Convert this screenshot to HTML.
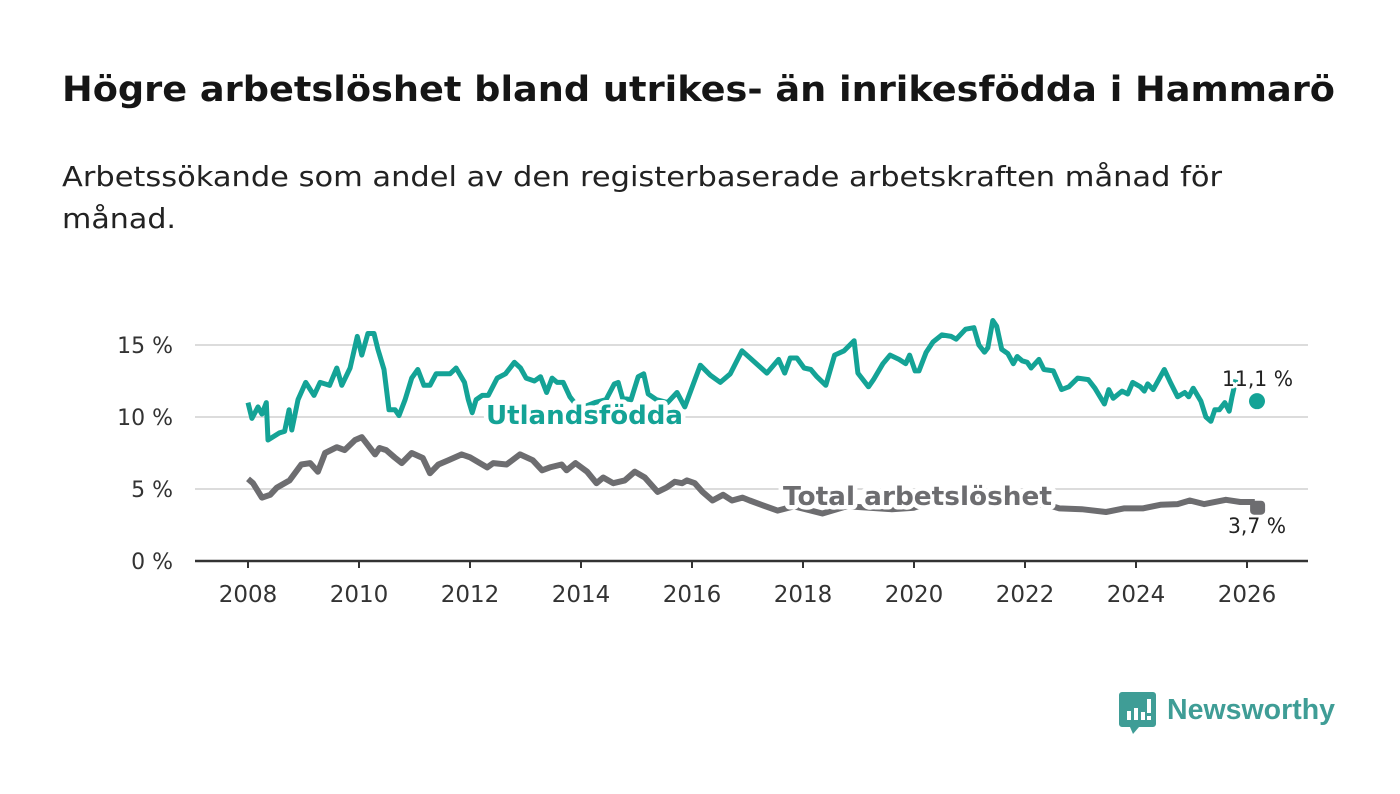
<!DOCTYPE html>
<html><head><meta charset="utf-8">
<style>
body{margin:0;width:1400px;height:794px;background:#fff;overflow:hidden;font-family:"DejaVu Sans","Liberation Sans",sans-serif;}
svg{position:absolute;left:0;top:0}
</style></head><body>
<svg width="1400" height="794" style="position:absolute;left:0;top:0">
  <text x="62" y="101" font-size="35" font-weight="bold" fill="#151515" textLength="1273" lengthAdjust="spacingAndGlyphs" font-family="DejaVu Sans, sans-serif">Högre arbetslöshet bland utrikes- än inrikesfödda i Hammarö</text>
  <text x="62" y="186" font-size="28" fill="#222" textLength="1160" lengthAdjust="spacingAndGlyphs" font-family="DejaVu Sans, sans-serif">Arbetssökande som andel av den registerbaserade arbetskraften månad för</text>
  <text x="62" y="228" font-size="28" fill="#222" textLength="114" lengthAdjust="spacingAndGlyphs" font-family="DejaVu Sans, sans-serif">månad.</text>
</svg>
<svg id="chart" width="1400" height="794"></svg>
<script>
const yTicks=[0,5,10,15];
const yTickLabels=["0 %","5 %","10 %","15 %"];
const xTicks=[2008,2010,2012,2014,2016,2018,2020,2022,2024,2026];
const foreignYears=[2008.0,2008.07,2008.18,2008.25,2008.33,2008.36,2008.57,2008.66,2008.74,2008.79,2008.9,2009.04,2009.19,2009.3,2009.47,2009.6,2009.69,2009.84,2009.97,2010.05,2010.16,2010.27,2010.34,2010.45,2010.54,2010.65,2010.72,2010.83,2010.95,2011.06,2011.17,2011.28,2011.39,2011.64,2011.75,2011.9,2011.97,2012.04,2012.11,2012.22,2012.33,2012.49,2012.64,2012.8,2012.91,2013.01,2013.16,2013.27,2013.38,2013.48,2013.57,2013.68,2013.8,2013.9,2014.05,2014.25,2014.45,2014.6,2014.67,2014.75,2014.9,2015.03,2015.13,2015.21,2015.36,2015.56,2015.73,2015.87,2016.15,2016.33,2016.51,2016.69,2016.9,2017.35,2017.47,2017.56,2017.67,2017.77,2017.89,2018.02,2018.14,2018.25,2018.41,2018.57,2018.74,2018.92,2018.99,2019.18,2019.27,2019.44,2019.57,2019.73,2019.85,2019.92,2020.02,2020.09,2020.22,2020.34,2020.5,2020.67,2020.76,2020.93,2021.08,2021.17,2021.27,2021.33,2021.42,2021.49,2021.58,2021.69,2021.79,2021.86,2021.95,2022.04,2022.11,2022.25,2022.34,2022.51,2022.66,2022.79,2022.95,2023.14,2023.26,2023.43,2023.51,2023.59,2023.75,2023.85,2023.94,2024.08,2024.15,2024.21,2024.31,2024.51,2024.62,2024.75,2024.88,2024.95,2025.03,2025.17,2025.26,2025.35,2025.42,2025.5,2025.6,2025.68,2025.73,2025.8];
const foreignValues=[11.0,9.9,10.7,10.2,11.0,8.4,8.9,9.0,10.5,9.1,11.2,12.4,11.5,12.4,12.2,13.4,12.2,13.4,15.6,14.3,15.8,15.8,14.7,13.3,10.5,10.5,10.1,11.2,12.7,13.3,12.2,12.2,13.0,13.0,13.4,12.4,11.2,10.3,11.2,11.5,11.5,12.7,13.0,13.8,13.4,12.7,12.5,12.8,11.7,12.7,12.4,12.4,11.4,10.9,10.7,11.0,11.2,12.3,12.4,11.3,11.2,12.8,13.0,11.6,11.2,11.0,11.7,10.7,13.6,12.9,12.4,13.0,14.6,13.05,13.6,14.0,13.05,14.1,14.1,13.4,13.3,12.8,12.2,14.3,14.6,15.3,13.05,12.1,12.6,13.7,14.3,14.0,13.7,14.3,13.2,13.2,14.5,15.2,15.7,15.6,15.4,16.1,16.2,15.0,14.5,14.8,16.7,16.3,14.7,14.4,13.7,14.2,13.9,13.8,13.4,14.0,13.3,13.2,11.9,12.1,12.7,12.6,12.0,10.9,11.9,11.3,11.8,11.6,12.4,12.1,11.8,12.3,11.9,13.3,12.4,11.4,11.7,11.4,12.0,11.1,10.0,9.7,10.5,10.5,11.0,10.4,11.4,12.6];
const foreignLast=[2026.18,11.1];
const totalYears=[2008.0,2008.09,2008.25,2008.4,2008.52,2008.75,2008.96,2009.12,2009.26,2009.39,2009.6,2009.74,2009.93,2010.05,2010.16,2010.29,2010.37,2010.49,2010.64,2010.77,2010.95,2011.15,2011.28,2011.43,2011.61,2011.85,2012.0,2012.31,2012.42,2012.66,2012.9,2013.13,2013.3,2013.44,2013.65,2013.74,2013.9,2014.11,2014.28,2014.4,2014.58,2014.79,2014.97,2015.15,2015.38,2015.54,2015.69,2015.82,2015.91,2016.05,2016.19,2016.37,2016.56,2016.72,2016.91,2017.04,2017.25,2017.54,2017.84,2018.35,2018.79,2019.2,2019.6,2020.0,2020.4,2020.8,2021.2,2021.6,2022.0,2022.4,2022.62,2023.02,2023.46,2023.78,2024.12,2024.44,2024.75,2024.97,2025.23,2025.62,2025.88,2026.14];
const totalValues=[5.7,5.4,4.4,4.6,5.1,5.6,6.7,6.8,6.2,7.5,7.9,7.7,8.4,8.6,8.05,7.4,7.85,7.7,7.2,6.8,7.5,7.15,6.1,6.7,7.0,7.4,7.2,6.5,6.8,6.7,7.4,7.0,6.3,6.5,6.7,6.3,6.8,6.2,5.4,5.8,5.4,5.6,6.2,5.8,4.8,5.1,5.5,5.4,5.6,5.4,4.8,4.2,4.6,4.2,4.4,4.2,3.9,3.5,3.8,3.3,3.8,3.7,3.6,3.7,4.2,4.3,4.2,4.0,3.9,3.9,3.65,3.6,3.4,3.65,3.65,3.9,3.95,4.2,3.95,4.25,4.1,4.1];
const totalLast=[2026.2,3.7];

const NS="http://www.w3.org/2000/svg";
const svg=document.getElementById('chart');
const xS=yr=>248+55.5*(yr-2008);
const yS=v=>561-14.4*v;
function mk(tag,attrs){const e=document.createElementNS(NS,tag);for(const k in attrs)e.setAttribute(k,attrs[k]);svg.appendChild(e);return e;}

yTicks.forEach((t,i)=>{
  if(t>0){const g=mk('line',{x1:195,x2:1308,y1:yS(t),y2:yS(t),stroke:'#dcdcdc','stroke-width':2});
  
  }
  const l=mk('text',{x:173,y:yS(t)+8,'text-anchor':'end','font-size':22,fill:'#333'});
  l.textContent=yTickLabels[i];
  
  
});
const ax=mk('line',{x1:195,x2:1308,y1:561,y2:561,stroke:'#333','stroke-width':2.5});


xTicks.forEach(t=>{
  const tk=mk('line',{x1:xS(t),x2:xS(t),y1:561,y2:568,stroke:'#333','stroke-width':2});
  
  
  const l=mk('text',{x:xS(t),y:602,'text-anchor':'middle','font-size':23,fill:'#333'});
  l.textContent=t;
  
  
});
function path(xs,vs){return xs.map((x,i)=>(i?'L':'M')+xS(x).toFixed(1)+','+yS(vs[i]).toFixed(1)).join('');}
const gl=mk('path',{d:path(totalYears,totalValues),fill:'none',stroke:'#6d6d70','stroke-width':6,'stroke-linejoin':'round'});


const tl=mk('path',{d:path(foreignYears,foreignValues),fill:'none',stroke:'#14a396','stroke-width':5,'stroke-linejoin':'round'});


const td=mk('circle',{cx:xS(foreignLast[0]),cy:yS(foreignLast[1]),r:8,fill:'#14a396'});


const gd=mk('rect',{x:xS(totalLast[0])-8,y:yS(totalLast[1])-7,width:15,height:14,rx:4,fill:'#6d6d70'});



function lbl(txt,x,y,size,fill,bold,w,name){
  const t=mk('text',{x:x,y:y,'font-size':size,fill:fill,'font-weight':bold?'bold':'normal',stroke:'#fff','stroke-width':bold?9:5,'paint-order':'stroke','stroke-linejoin':'round',textLength:w,lengthAdjust:'spacingAndGlyphs'});
  t.textContent=txt;
  
  
}
lbl('Utlandsfödda',486,424,26,'#14a396',true,197,'foreign-born-label');
lbl('Total arbetslöshet',783,505,26,'#6d6d70',true,269,'total-label');
lbl('11,1 %',1222,386,21,'#222',false,71,'foreign-born-value-label');
lbl('3,7 %',1228,533,21,'#222',false,58,'total-value-label');
</script>
<svg width="1400" height="794" style="position:absolute;left:0;top:0;pointer-events:none">
  <path d="M1122 692 h31 a3 3 0 0 1 3 3 v29 a3 3 0 0 1 -3 3 h-14 l-6 7 l-3 -7 h-8 a3 3 0 0 1 -3 -3 v-29 a3 3 0 0 1 3 -3z" fill="#3f9d96"/>
  <rect x="1127" y="711" width="4" height="9" fill="#fff"/><rect x="1134" y="708" width="4" height="12" fill="#fff"/><rect x="1141" y="712" width="4" height="8" fill="#fff"/><rect x="1147" y="699" width="4" height="14" fill="#fff"/><rect x="1147" y="716" width="4" height="4" fill="#fff"/>
  <text x="1167" y="719" font-size="29" font-weight="bold" fill="#3f9d96" font-family="Liberation Sans, sans-serif" textLength="168" lengthAdjust="spacingAndGlyphs">Newsworthy</text>
</svg>
</body></html>
